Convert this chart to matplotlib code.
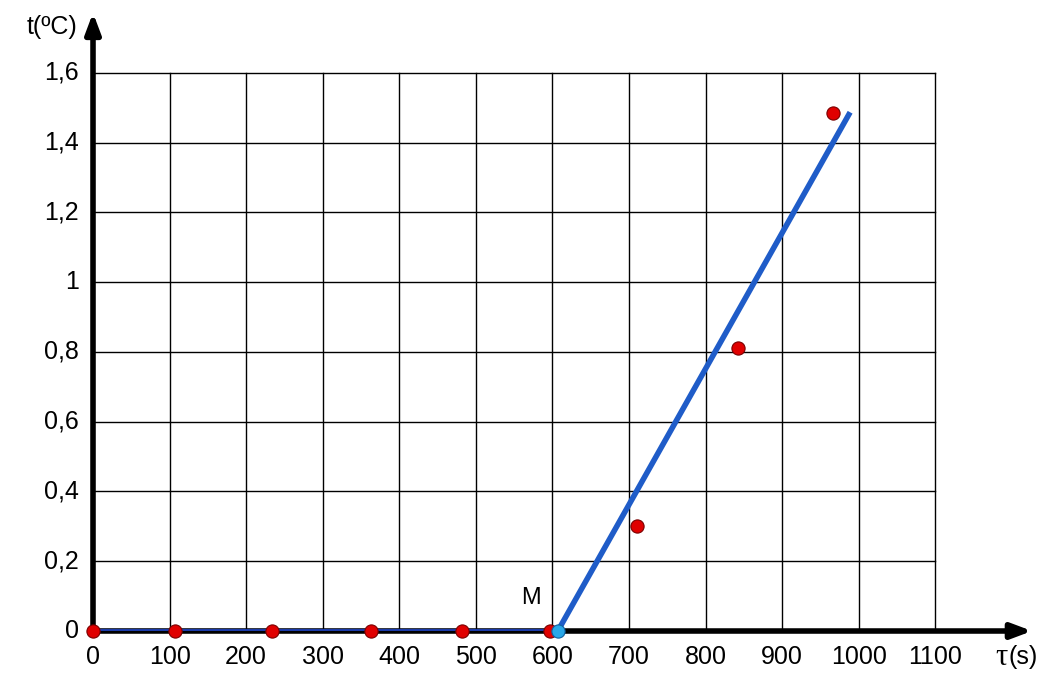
import matplotlib.pyplot as plt

# measured points (tau in s, t in degC)
tau = [0, 107, 234, 363, 482, 597, 710, 842, 967]
temp = [0, 0, 0, 0, 0, 0, 0.30, 0.81, 1.485]

# fitted lines
flat_x = [0, 607]
flat_y = [0, 0]
rise_x = [607, 987]
rise_y = [0, 1.48]
m_point = (607, 0)

xticks = [0, 100, 200, 300, 400, 500, 600, 700, 800, 900, 1000, 1100]
yticks = [0, 0.2, 0.4, 0.6, 0.8, 1.0, 1.2, 1.4, 1.6]
ylabels = ['0', '0,2', '0,4', '0,6', '0,8', '1', '1,2', '1,4', '1,6']

plt.rcParams['font.family'] = ['Liberation Sans', 'DejaVu Sans']

fig = plt.figure(figsize=(10.63, 6.9), dpi=100)
ax = fig.add_axes([0.0875, 0.0855, 0.886, 0.90])
ax.set_xlim(0, 1230)
ax.set_ylim(0, 1.78)
ax.axis('off')

# grid
for x in xticks[1:]:
    ax.plot([x, x], [0, 1.6], color='black', lw=1.0, zorder=1)
for y in yticks[1:]:
    ax.plot([0, 1100], [y, y], color='black', lw=1.0, zorder=1)

# axes with arrows
ax.annotate('', xy=(1230, 0), xytext=(0, 0),
            arrowprops=dict(arrowstyle='-|>,head_length=1.2,head_width=0.45', lw=4, color='black'),
            zorder=2)
ax.annotate('', xy=(0, 1.78), xytext=(0, 0),
            arrowprops=dict(arrowstyle='-|>,head_length=1.2,head_width=0.45', lw=4, color='black'),
            zorder=2)

# lines
ax.plot(flat_x, flat_y, color='#1a3aa8', lw=3, zorder=3, solid_capstyle='butt')
ax.plot(rise_x, rise_y, color='#1f5cc8', lw=4, zorder=3)

# points
ax.plot(tau, temp, 'o', color='#e00000', mec='#7a0000', mew=0.8, ms=9.5, zorder=4, clip_on=False)
ax.plot([m_point[0]], [m_point[1]], 'o', color='#2aa8e8', mec='#1060a0', mew=0.8, ms=9.5, zorder=5, clip_on=False)

# tick labels
for x in xticks:
    ax.text(x, -0.04, str(x), ha='center', va='top', fontsize=18)
for y, lab in zip(yticks, ylabels):
    ax.text(-18, y, lab, ha='right', va='center', fontsize=18)

ax.text(-20, 1.732, 't(ºC)', ha='right', va='center', fontsize=18)
ax.text(1195, -0.035, 'τ', ha='right', va='top', fontsize=22, family=['Liberation Serif', 'DejaVu Serif'])
ax.text(1195, -0.04, '(s)', ha='left', va='top', fontsize=18)
ax.text(585, 0.095, 'M', ha='right', va='center', fontsize=17)

fig.savefig('out.png', dpi=100)
